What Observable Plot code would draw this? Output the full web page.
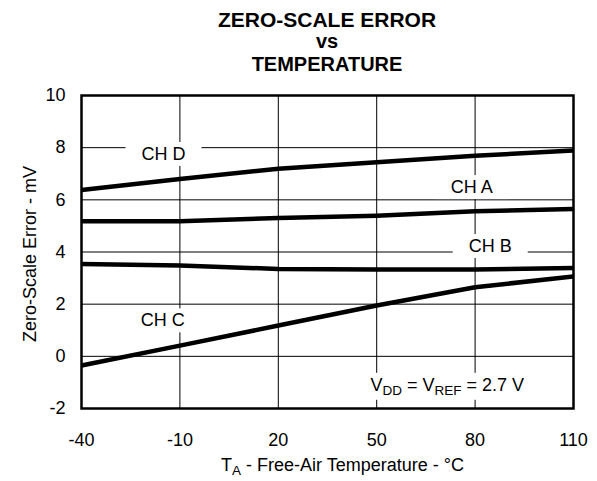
<!DOCTYPE html>
<html>
<head>
<meta charset="utf-8">
<script src="https://cdn.jsdelivr.net/npm/d3@7"></script>
<script src="https://cdn.jsdelivr.net/npm/@observablehq/plot@0.6"></script>
<style>
  html, body { margin: 0; padding: 0; background: white; }
  #title { position: relative; width: 597px; height: 80px; font-family: "Liberation Sans", Arial, sans-serif; font-weight: bold; color: black; }
  #title div { position: absolute; left: 81px; width: 492px; text-align: center; line-height: 20px; white-space: nowrap; }
</style>
</head>
<body>
<div id="title">
  <div style="top:10px;font-size:21px">ZERO-SCALE ERROR</div>
  <div style="top:31px;font-size:20px">vs</div>
  <div style="top:54px;font-size:20px">TEMPERATURE</div>
</div>
<div id="chart"></div>
<script>
// ---- data ----
const temps = [-40, -10, 20, 50, 80, 110];
const chA = [5.18, 5.18, 5.30, 5.39, 5.56, 5.65];
const chB = [3.54, 3.48, 3.35, 3.33, 3.33, 3.39];
const chC = [-0.35, 0.41, 1.18, 1.95, 2.65, 3.06];
const chD = [6.38, 6.80, 7.19, 7.44, 7.69, 7.89];
const channelNames = ["CH A", "CH B", "CH C", "CH D"];
const xTicks = [-40, -10, 20, 50, 80, 110];
const yTicks = [-2, 0, 2, 4, 6, 8, 10];
const labelText = ["CH D", "CH A", "CH B", "CH C", "V_{DD} = V_{REF} = 2.7 V"];
const labelT = [-15, 79, 84.6, -15.2, 71.5];
const labelV = [7.75, 6.48, 4.22, 1.37, -1.1];

const seriesValues = [chA, chB, chC, chD];
const rows = [];
channelNames.forEach((ch, i) => temps.forEach((t, j) => rows.push({ch, t, v: seriesValues[i][j]})));
const labels = labelText.map((text, i) => ({text, t: labelT[i], v: labelV[i]}));

const fmt = d => String(d);
const font = "'Liberation Sans', Arial, sans-serif";

const chart = Plot.plot({
  width: 597,
  height: 401,
  marginTop: 15,
  marginRight: 24,
  marginBottom: 73,
  marginLeft: 81,
  style: {fontFamily: font, fontSize: "18px", color: "black", background: "white", overflow: "visible"},
  x: {domain: [-40, 110], ticks: xTicks, tickFormat: fmt, tickSize: 0, tickPadding: 25, label: null},
  y: {domain: [-2, 10], ticks: yTicks, tickFormat: fmt, tickSize: 0, tickPadding: 16, label: null},
  marks: [
    Plot.ruleX(xTicks, {x: d => d, stroke: "black", strokeWidth: 1}),
    Plot.ruleY(yTicks, {y: d => d, stroke: "black", strokeWidth: 1}),
    Plot.line(rows, {x: "t", y: "v", z: "ch", stroke: "black", strokeWidth: 4.5, clip: true}),
    Plot.text(labels, {x: "t", y: "v", text: "text", fill: "black", fontSize: 18}),
    Plot.frame({stroke: "black", strokeWidth: 2.5}),
    Plot.text(["Zero-Scale Error - mV"], {frameAnchor: "left", textAnchor: "middle", text: d => d, rotate: -90, dx: -51, dy: 2, fontSize: 18, fill: "black"}),
    Plot.text(["T_{A} - Free-Air Temperature - °C"], {frameAnchor: "bottom", textAnchor: "middle", text: d => d, dx: 15, dy: 57, lineAnchor: "middle", fontSize: 18, fill: "black"})
  ]
});

document.getElementById("chart").append(chart);

const SVGNS = "http://www.w3.org/2000/svg";
const allTexts = Array.from(chart.querySelectorAll("text"));
// curve labels (collected before subscript conversion)
const labelEls = allTexts.filter(t => labelText.includes(t.textContent));

// subscripts
allTexts.forEach(t => {
  const s = t.textContent;
  if (!s.includes("_{")) return;
  t.textContent = "";
  const re = /_\{([^}]*)\}/g;
  let last = 0, m, shifted = false;
  const add = (str, sub) => {
    if (!str) return;
    const ts = document.createElementNS(SVGNS, "tspan");
    ts.textContent = str;
    if (sub) { ts.setAttribute("font-size", "0.75em"); ts.setAttribute("dy", "4"); shifted = true; }
    else if (shifted) { ts.setAttribute("dy", "-4"); shifted = false; }
    t.appendChild(ts);
  };
  while ((m = re.exec(s))) {
    add(s.slice(last, m.index), false);
    add(m[1], true);
    last = m.index + m[0].length;
  }
  add(s.slice(last), false);
});

// white boxes behind the curve labels (break the grid lines)
labelEls.forEach(t => {
  const b = t.getBBox();
  const r = document.createElementNS(SVGNS, "rect");
  r.setAttribute("x", b.x - 16);
  r.setAttribute("y", b.y - 2);
  r.setAttribute("width", b.width + 32);
  r.setAttribute("height", b.height + 4);
  r.setAttribute("fill", "white");
  r.setAttribute("stroke", "none");
  const tr = t.getAttribute("transform");
  if (tr) r.setAttribute("transform", tr);
  t.parentNode.insertBefore(r, t);
});
</script>
</body>
</html>
